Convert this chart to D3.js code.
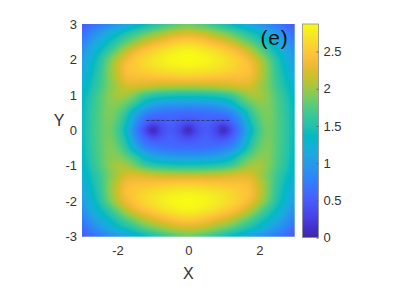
<!DOCTYPE html>
<html>
<head>
<meta charset="utf-8">
<script src="https://cdn.jsdelivr.net/npm/d3@7"></script>
<style>
  html, body { margin: 0; background: #fff; }
  text { font-family: "Liberation Sans", Arial, sans-serif; fill: #333; }
</style>
</head>
<body>
<script>
'use strict';

// grid positions of the field (one quadrant, picture is mirrored in both axes)
var gridX = [0, 0.25, 0.5, 0.75, 1, 1.25, 1.5, 1.75, 2, 2.25, 2.5, 2.75, 3];
var gridY = [0, 0.25, 0.5, 0.75, 1, 1.25, 1.5, 1.75, 2, 2.25, 2.5, 2.75, 3];

// values, one row per gridY
var row00 = [0.10, 0.35, 0.48, 0.35, 0.10, 0.42, 0.82, 1.30, 1.68, 1.86, 1.77, 1.60, 1.40];
var row25 = [0.42, 0.48, 0.55, 0.48, 0.45, 0.62, 0.95, 1.42, 1.74, 1.88, 1.77, 1.59, 1.39];
var row50 = [0.62, 0.63, 0.65, 0.68, 0.74, 0.88, 1.18, 1.58, 1.82, 1.90, 1.76, 1.58, 1.38];
var row75 = [1.00, 1.00, 1.02, 1.06, 1.14, 1.32, 1.60, 1.80, 1.93, 1.91, 1.75, 1.56, 1.36];
var row100 = [1.50, 1.50, 1.52, 1.55, 1.60, 1.70, 1.88, 2.02, 2.04, 1.92, 1.73, 1.52, 1.32];
var row125 = [2.08, 2.08, 2.09, 2.10, 2.14, 2.18, 2.22, 2.20, 2.05, 1.88, 1.66, 1.45, 1.27];
var row150 = [2.52, 2.51, 2.49, 2.47, 2.45, 2.43, 2.42, 2.36, 2.14, 1.90, 1.62, 1.39, 1.20];
var row175 = [2.77, 2.76, 2.73, 2.69, 2.64, 2.58, 2.50, 2.42, 2.17, 1.90, 1.58, 1.33, 1.12];
var row200 = [2.87, 2.85, 2.82, 2.76, 2.69, 2.60, 2.49, 2.33, 2.10, 1.82, 1.52, 1.26, 1.03];
var row225 = [2.81, 2.78, 2.72, 2.65, 2.55, 2.44, 2.30, 2.10, 1.85, 1.60, 1.36, 1.14, 0.92];
var row250 = [2.55, 2.52, 2.45, 2.35, 2.25, 2.12, 1.95, 1.78, 1.58, 1.38, 1.18, 0.98, 0.77];
var row275 = [2.20, 2.17, 2.10, 2.00, 1.90, 1.77, 1.62, 1.47, 1.32, 1.15, 0.98, 0.80, 0.62];
var row300 = [1.85, 1.80, 1.72, 1.62, 1.50, 1.37, 1.25, 1.10, 0.98, 0.85, 0.72, 0.60, 0.47];
var rows = [row00, row25, row50, row75, row100, row125, row150, row175, row200, row225, row250, row275, row300];

var xTicks = [-2, 0, 2];
var yTicks = [-3, -2, -1, 0, 1, 2, 3];
var barTicks = [0, 0.5, 1, 1.5, 2, 2.5];
var dashX = [-1.19, 1.18];
var dashY = 0.28;
var maxValue = 2.87;

var parula = ["#3e26a8", "#4332cb", "#4741e5", "#4752f4", "#4563fd", "#3875fe", "#2d87f7", "#2796eb",
    "#20a5e3", "#12b1d6", "#02bac3", "#24c1ae", "#37c897", "#57cc7a", "#81cc59", "#abc739",
    "#d1bf27", "#efba36", "#fec338", "#f9d62d", "#f5e924", "#f9fb15"];

var width = 407, height = 306;
var margin = { left: 82, right: 294.7, top: 24, bottom: 236.7 };

var x = d3.scaleLinear().domain([-3, 3]).range([margin.left, margin.right]);
var y = d3.scaleLinear().domain([-3, 3]).range([margin.bottom, margin.top]);
var color = d3.scaleLinear()
    .domain(parula.map(function(d, i) { return i / (parula.length - 1) * maxValue; }))
    .range(parula)
    .clamp(true);
var barScale = d3.scaleLinear().domain([0, maxValue]).range([237.6, 24]);

// catmull-rom through four neighbours
function cubic(a, b, c, d, t) {
    return b + 0.5 * t * (c - a + t * (2 * a - 5 * b + 4 * c - d + t * (3 * (b - c) + d - a)));
}

function cell(i, j) {
    // past the axis the quadrant mirrors, past the edge the last cell repeats
    i = Math.abs(i); j = Math.abs(j);
    return rows[Math.min(j, gridY.length - 1)][Math.min(i, gridX.length - 1)];
}

function sample(px, py) {
    var ax = Math.abs(px) / 0.25, ay = Math.abs(py) / 0.25;
    var i = Math.min(Math.floor(ax), gridX.length - 2), j = Math.min(Math.floor(ay), gridY.length - 2);
    var tx = ax - i, ty = ay - j;
    var col = [-1, 0, 1, 2].map(function(dj) {
        return cubic(cell(i - 1, j + dj), cell(i, j + dj), cell(i + 1, j + dj), cell(i + 2, j + dj), tx);
    });
    return cubic(col[0], col[1], col[2], col[3], ty);
}

function fieldImage() {
    var w = Math.round(margin.right - margin.left), h = Math.round(margin.bottom - margin.top);
    var canvas = document.createElement("canvas");
    canvas.width = w; canvas.height = h;
    var ctx = canvas.getContext("2d");
    for (var r = 0; r < h; r++) {
        for (var c = 0; c < w; c++) {
            ctx.fillStyle = color(sample(x.invert(margin.left + c + 0.5), y.invert(margin.top + r + 0.5)));
            ctx.fillRect(c, r, 1, 1);
        }
    }
    return canvas.toDataURL();
}

var svg = d3.select("body").append("svg")
    .attr("width", width)
    .attr("height", height)
    .style("display", "block");

svg.append("image")
    .attr("x", margin.left)
    .attr("y", margin.top)
    .attr("width", margin.right - margin.left)
    .attr("height", margin.bottom - margin.top)
    .attr("preserveAspectRatio", "none")
    .attr("href", fieldImage());

svg.append("line")
    .attr("x1", x(dashX[0])).attr("x2", x(dashX[1]))
    .attr("y1", y(dashY)).attr("y2", y(dashY))
    .attr("stroke", "#2a2a6a")
    .attr("stroke-opacity", 0.8)
    .attr("stroke-width", 1)
    .attr("stroke-dasharray", "3.5,1.5");

svg.append("text")
    .attr("x", 260.5).attr("y", 45)
    .style("font-size", "21px")
    .style("letter-spacing", "0.8px")
    .style("fill", "#111")
    .text("(e)");

// axes
var xAxis = svg.append("g").attr("transform", "translate(0," + margin.bottom + ")")
    .call(d3.axisBottom(x).tickValues(xTicks).tickFormat(String).tickSize(0).tickPadding(9));
var yAxis = svg.append("g").attr("transform", "translate(" + margin.left + ",0)")
    .call(d3.axisLeft(y).tickValues(yTicks).tickFormat(String).tickSize(0).tickPadding(5));
[xAxis, yAxis].forEach(function(g) {
    g.select(".domain").remove();
    g.selectAll("text").style("font-size", "13px").style("font-family", null);
});

svg.append("text").attr("x", x(0)).attr("y", 279).attr("text-anchor", "middle")
    .style("font-size", "16px").text("X");
svg.append("text").attr("x", 59).attr("y", 126).attr("text-anchor", "middle")
    .style("font-size", "16px").text("Y");

// colorbar
var barDefs = svg.append("defs").append("linearGradient")
    .attr("id", "bar").attr("x1", 0).attr("x2", 0).attr("y1", 1).attr("y2", 0);
barDefs.selectAll("stop").data(parula).enter().append("stop")
    .attr("offset", function(d, i) { return i / (parula.length - 1); })
    .attr("stop-color", function(d) { return d; });

svg.append("rect")
    .attr("x", 302.5).attr("y", barScale(maxValue))
    .attr("width", 16).attr("height", barScale(0) - barScale(maxValue))
    .attr("fill", "url(#bar)")
    .attr("stroke", "#8c8c8c")
    .attr("stroke-width", 0.8);

var barAxis = svg.append("g").attr("transform", "translate(318.5,0)")
    .call(d3.axisRight(barScale).tickValues(barTicks).tickFormat(String).tickSize(-2).tickPadding(5));
barAxis.select(".domain").remove();
barAxis.selectAll("line").attr("stroke", "#666");
barAxis.selectAll("text").style("font-size", "13px").style("font-family", null);
</script>
</body>
</html>
